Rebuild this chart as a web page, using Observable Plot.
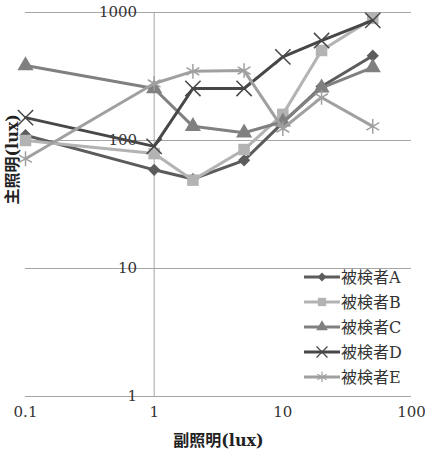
<!DOCTYPE html>
<html>
<head>
<meta charset="utf-8">
<script src="https://cdn.jsdelivr.net/npm/d3@7"></script>
<script src="https://cdn.jsdelivr.net/npm/@observablehq/plot@0.6"></script>
<style>
  html, body { margin: 0; padding: 0; background: #fff; }
</style>
</head>
<body>
<div id="chart"></div>
<script>
const xs = [0.1, 1, 2, 5, 10, 20, 50];
const seriesNames = ["被検者A", "被検者B", "被検者C", "被検者D", "被検者E"];
const valuesA = [110, 59, 50, 70, 138, 264, 460];
const valuesB = [100, 79, 49, 85, 160, 505, 900];
const valuesC = [385, 255, 129, 115, 140, 258, 372];
const valuesD = [151, 90, 255, 255, 450, 604, 868];
const valuesE = [72, 279, 347, 352, 124, 217, 129];
const xTicks = [0.1, 1, 10, 100];
const xTickLabels = ["0.1", "1", "10", "100"];
const yTicks = [1, 10, 100, 1000];
const yTickLabels = ["1", "10", "100", "1000"];
const xTitle = "副照明(lux)";
const yTitle = "主照明(lux)";

const allValues = [valuesA, valuesB, valuesC, valuesD, valuesE];
const styles = [
  {color: "#5c5c5c", symbol: "diamond2", r: 5.5, filled: true},
  {color: "#b3b3b3", symbol: "square", r: 6.5, filled: true},
  {color: "#808080", symbol: "triangle", r: 6, filled: true},
  {color: "#474747", symbol: "times", r: 7, filled: false},
  {color: "#a0a0a0", symbol: "asterisk", r: 7, filled: false}
];

const series = seriesNames.map((name, i) => xs.map((x, j) => ({name, x, y: allValues[i][j]})));

const font = "'DejaVu Serif', 'Noto Sans CJK JP', serif";
const gridColor = "#a6a6a6";

const marks = [
  Plot.ruleY(yTicks, {stroke: gridColor, strokeWidth: 1}),
  Plot.ruleX([1], {stroke: gridColor, strokeWidth: 1}),
  Plot.text(yTicks, {x: () => 1, y: d => d, text: (d, i) => yTickLabels[i], textAnchor: "end", dx: -17, fontSize: 15, fill: "#333"}),
  Plot.text(xTicks, {x: d => d, y: () => 1, text: (d, i) => xTickLabels[i], dy: 16, fontSize: 15, fill: "#333"}),
  Plot.text([xTitle], {frameAnchor: "bottom", text: d => d, dy: 49, fontSize: 16, fontWeight: "bold", fill: "#222"}),
  Plot.text([yTitle], {frameAnchor: "left", text: d => d, rotate: -90, dx: -13, fontSize: 16, fontWeight: "bold", fill: "#222"})
];

series.forEach((data, i) => {
  const s = styles[i];
  marks.push(Plot.line(data, {x: "x", y: "y", stroke: s.color, strokeWidth: 3, curve: "linear"}));
  marks.push(Plot.dot(data, s.filled
    ? {x: "x", y: "y", symbol: () => s.symbol, r: s.r, fill: s.color, stroke: "none"}
    : {x: "x", y: "y", symbol: () => s.symbol, r: s.r, fill: "none", stroke: s.color, strokeWidth: 1.5}));
});

const chart = Plot.plot({
  width: 425,
  height: 455,
  marginLeft: 25,
  marginRight: 14,
  marginTop: 12,
  marginBottom: 59,
  style: {fontFamily: font, background: "#fff"},
  x: {type: "log", domain: [0.1, 100], axis: null},
  y: {type: "log", domain: [1, 1000], axis: null},
  symbol: {type: "identity"},
  marks
});

document.getElementById("chart").appendChild(chart);

// Legend inside plot area (bottom right)
const svg = d3.select(chart);
const symbolMap = {
  diamond2: d3.symbolDiamond2, square: d3.symbolSquare, triangle: d3.symbolTriangle,
  times: d3.symbolTimes, asterisk: d3.symbolAsterisk
};
const lg = svg.append("g").attr("font-family", font).attr("font-size", 16).attr("text-anchor", "start");
seriesNames.forEach((name, i) => {
  const s = styles[i];
  const cy = 277 + i * 25;
  const g = lg.append("g").attr("transform", `translate(0,${cy})`);
  g.append("line").attr("x1", 304).attr("x2", 340).attr("y1", 0).attr("y2", 0)
    .attr("stroke", s.color).attr("stroke-width", 3);
  const rr = s.r * 0.72;
  g.append("path")
    .attr("transform", "translate(322,0)")
    .attr("d", d3.symbol(symbolMap[s.symbol], Math.PI * rr * rr)())
    .attr("fill", s.filled ? s.color : "none")
    .attr("stroke", s.filled ? "none" : s.color)
    .attr("stroke-width", 1.2);
  g.append("text").attr("x", 341).attr("y", 0).attr("dy", "0.35em")
    .attr("text-anchor", "start")
    .attr("fill", "#333").text(name);
});
</script>
</body>
</html>
